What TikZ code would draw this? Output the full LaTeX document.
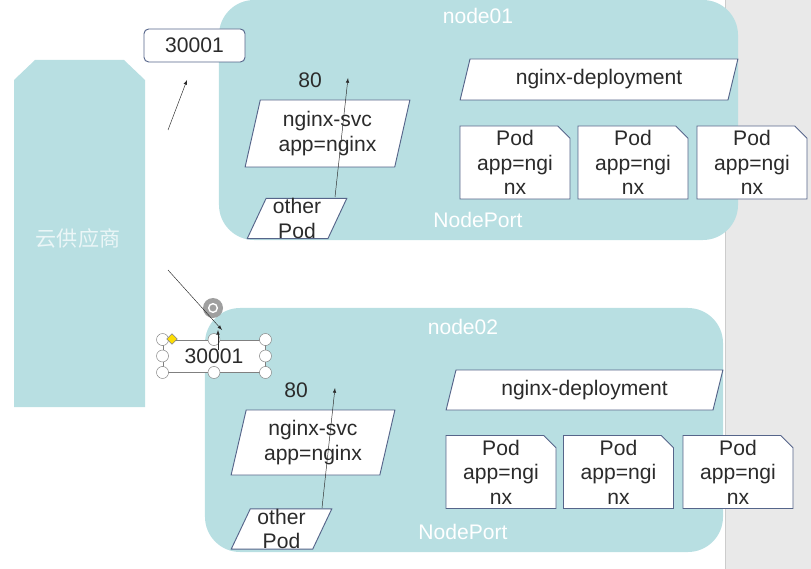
\documentclass[tikz,border=0pt]{standalone}
\usepackage{fontspec}
\setmainfont{Liberation Sans}
\newfontfamily\cjk{Noto Sans CJK SC}
\usepackage{tikz}
\usetikzlibrary{calc}
\usetikzlibrary{arrows.meta}
\usetikzlibrary{shapes.geometric}
\usetikzlibrary{shapes.misc}
\definecolor{tealbg}{HTML}{B8DFE2}
\definecolor{edge}{HTML}{56658A}
\definecolor{ink}{HTML}{2B2B2B}
\definecolor{strip}{HTML}{E9E9E9}
\tikzset{>=latex}
\tikzstyle{hostbox} = [rectangle, rounded corners = 30pt, fill = tealbg, inner sep = 0pt]
\tikzstyle{portbox} = [rectangle, rounded corners = 4pt, draw = edge, fill = white, line width = 0.8pt, text = ink, minimum width = 3.03cm, minimum height = 0.99cm, inner sep = 0pt]
\tikzstyle{slant} = [trapezium, trapezium stretches = true, draw = edge, fill = white, line width = 0.8pt, text = ink, align = center, inner sep = 0pt]
\tikzstyle{podbox} = [chamfered rectangle, chamfered rectangle corners = north east, chamfered rectangle xsep = 7pt, draw = edge, fill = white, line width = 0.8pt, text = ink, align = center, text depth = -7pt, minimum width = 3.3cm, minimum height = 2.19cm, inner sep = 0pt]
\tikzstyle{whitelabel} = [text = white]
\tikzstyle{handle} = [circle, draw = gray, fill = white, minimum size = 0.36cm, inner sep = 0pt]
\newcommand{\podlabel}{Pod\\app=ngi\\nx}

\begin{document}
\begin{tikzpicture}[x = 0.03cm, y = -0.03cm, font = \fontsize{18}{21}\selectfont]
\useasboundingbox (0, 0) rectangle (811, 569);
\fill [strip] (725, 0) rectangle (811, 569);
\draw [gray!40] (725, 0) -- (725, 569);

% cloud provider
\fill [tealbg] (14, 407) -- (14, 80) -- (35, 60) -- (124, 60) -- (145, 80) -- (145, 407) -- cycle;
\node [text = white!72!tealbg, font = \cjk\fontsize{18}{21}\selectfont] (cloud) at (78, 238) {云供应商};

% node01
\node [hostbox, minimum width = 15.57cm, minimum height = 7.2cm] (node01) at (478.5, 120) {};
\node [whitelabel] (n1title) at (478, 16) {node01};
\node [whitelabel] (n1port) at (478, 220) {NodePort};
\node [portbox] (port1) at (194.5, 45.5) {30001};
\node [text = ink] (p80a) at (310, 80) {80};
\node [slant, trapezium left angle = 76, trapezium right angle = 104, minimum width = 4.95cm, minimum height = 2.01cm] (svc1) at (327.5, 133.5) {nginx-svc\\app=nginx};
\node [slant, trapezium left angle = 70, trapezium right angle = 110, minimum width = 3cm, minimum height = 1.17cm] (other1) at (297, 218.5) {other\\Pod};
\node [slant, trapezium left angle = 72, trapezium right angle = 108, minimum width = 8.34cm, minimum height = 1.23cm] (deploy1) at (599, 79.5) {nginx-deployment};
\node [podbox] (pod11) at (515, 162.5) {\podlabel};
\node [podbox] (pod12) at (633, 162.5) {\podlabel};
\node [podbox] (pod13) at (752, 162.5) {\podlabel};

% node02
\node [hostbox, minimum width = 15.54cm, minimum height = 7.32cm] (node02) at (464, 430) {};
\node [whitelabel] (n2title) at (463, 327) {node02};
\node [whitelabel] (n2port) at (463, 532) {NodePort};
\node [text = ink] (p80b) at (296, 390) {80};
\node [slant, trapezium left angle = 76, trapezium right angle = 104, minimum width = 4.92cm, minimum height = 1.95cm] (svc2) at (313, 442.5) {nginx-svc\\app=nginx};
\node [slant, trapezium left angle = 70, trapezium right angle = 110, minimum width = 3.03cm, minimum height = 1.14cm] (other2) at (281.5, 529) {other\\Pod};
\node [slant, trapezium left angle = 72, trapezium right angle = 108, minimum width = 8.31cm, minimum height = 1.2cm] (deploy2) at (584.5, 390) {nginx-deployment};
\node [podbox] (pod21) at (501, 472) {\podlabel};
\node [podbox] (pod22) at (618.5, 472) {\podlabel};
\node [podbox] (pod23) at (738, 472) {\podlabel};

% selected port box
\node [portbox, rounded corners = 0pt, draw = gray, minimum width = 3.06cm, minimum height = 0.96cm] (port2) at (214, 356) {30001};
\foreach \a/\n in {north west/1, north/2, north east/3, west/4, east/5, south west/6, south/7, south east/8}
  \node [handle] (h\n) at (port2.\a) {};
\node [diamond, fill = yellow!80!orange, draw = gray, minimum size = 0.32cm, inner sep = 0pt] (hy) at (172, 339) {};
\node [circle, fill = gray!75, minimum size = 0.6cm, inner sep = 0pt] (rot) at (213, 308) {};
\node [circle, draw = white, line width = 1.2pt, minimum size = 0.26cm, inner sep = 0pt] (rotin) at (213, 308) {};

% connectors
\coordinate (a1s) at (168, 130);
\coordinate (a1e) at (187, 80);
\coordinate (a2s) at (168, 270);
\coordinate (a2e) at (222, 330);
\coordinate (a3s) at (335, 197);
\coordinate (a3e) at (348, 78);
\coordinate (a4s) at (322, 508);
\coordinate (a4e) at (335, 388);
\coordinate (a5s) at (218, 350);
\coordinate (a5e) at (218, 330);
\draw [-latex, draw = ink] (a1s) to (a1e);
\draw [-latex, draw = ink] (a2s) to (a2e);
\draw [-latex, draw = ink] (a3s) to (a3e);
\draw [-latex, draw = ink] (a4s) to (a4e);
\draw [-latex, draw = ink] (a5s) to (a5e);
\end{tikzpicture}
\end{document}
